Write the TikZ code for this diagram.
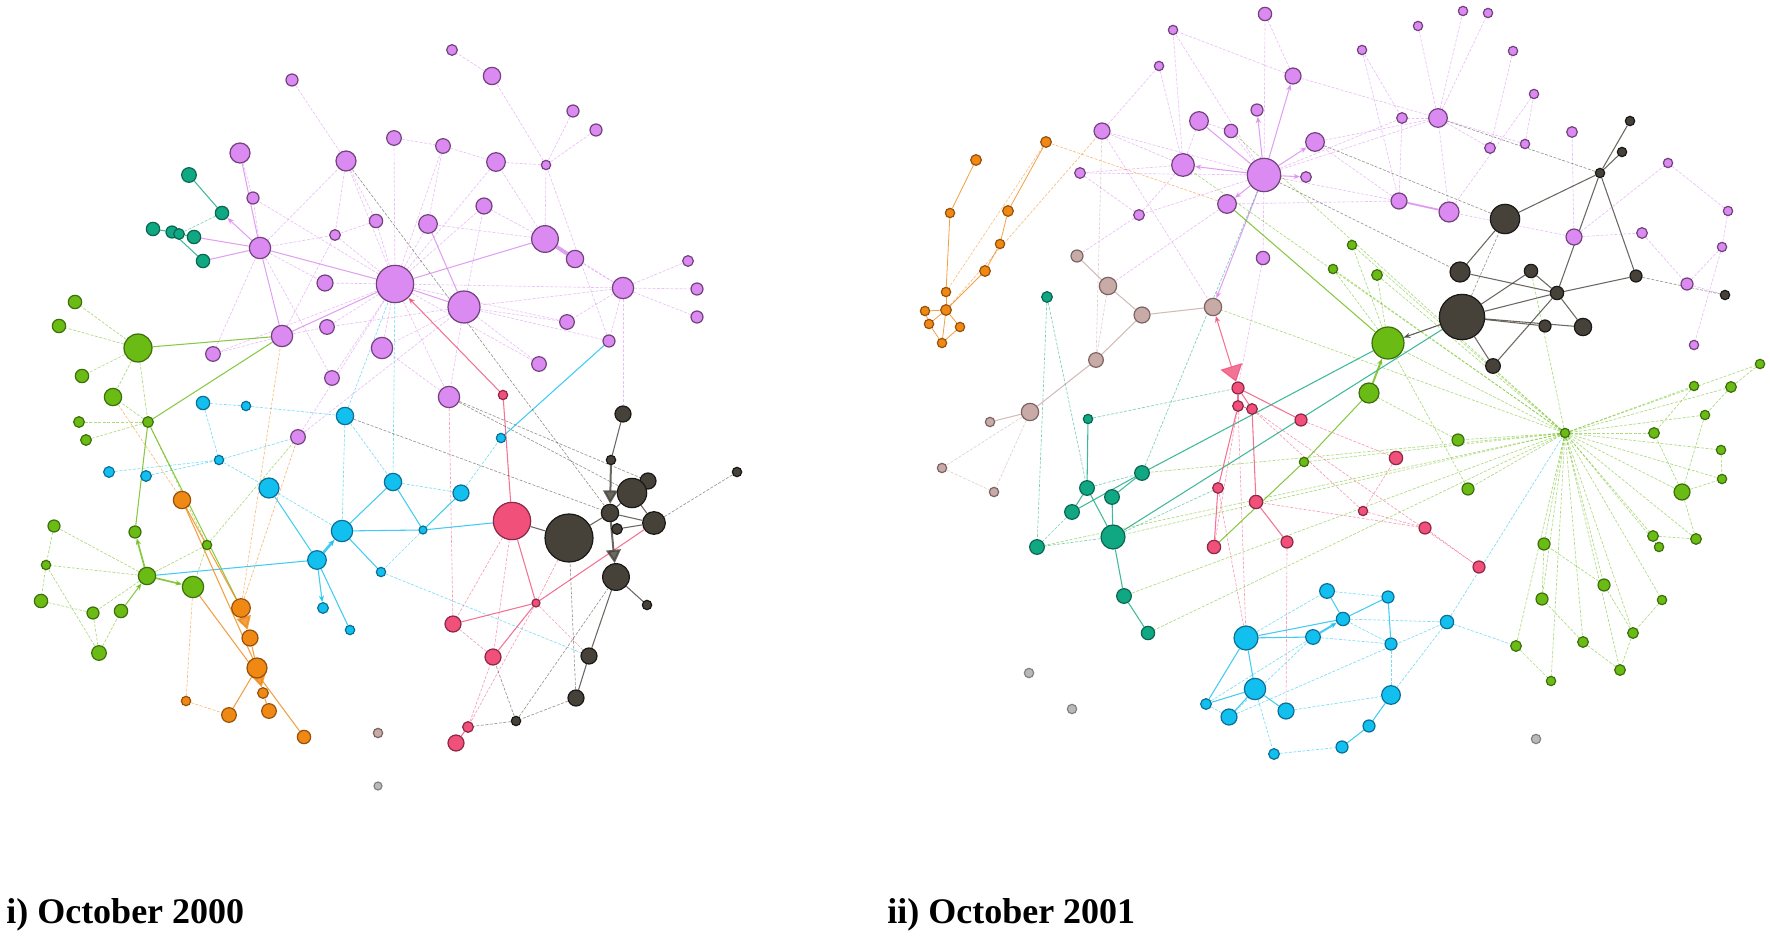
\documentclass[tikz,border=0pt]{standalone}
\usepackage{fontspec}
\setmainfont{Liberation Serif}
\usetikzlibrary{arrows.meta,backgrounds}

\definecolor{cpu}{RGB}{218,138,240}\definecolor{cpud}{RGB}{115,65,125}
\definecolor{cgr}{RGB}{106,188,20}\definecolor{cgrd}{RGB}{60,110,10}
\definecolor{cte}{RGB}{16,168,130}\definecolor{cted}{RGB}{10,100,80}
\definecolor{cbl}{RGB}{18,192,240}\definecolor{cbld}{RGB}{10,110,150}
\definecolor{cor}{RGB}{240,136,20}\definecolor{cord}{RGB}{150,80,10}
\definecolor{cre}{RGB}{240,80,122}\definecolor{cred}{RGB}{140,40,70}
\definecolor{cdk}{RGB}{70,66,58}\definecolor{cdkd}{RGB}{25,24,22}
\definecolor{cbr}{RGB}{200,170,166}\definecolor{cbrd}{RGB}{125,100,100}
\definecolor{cgy}{RGB}{185,185,185}\definecolor{cgyd}{RGB}{130,130,130}

\tikzset{
  nd/.style={circle,inner sep=0pt,line width=0.9pt},
  pu/.style={nd,fill=cpu,draw=cpud}, gr/.style={nd,fill=cgr,draw=cgrd},
  te/.style={nd,fill=cte,draw=cted}, bl/.style={nd,fill=cbl,draw=cbld},
  or/.style={nd,fill=cor,draw=cord}, re/.style={nd,fill=cre,draw=cred},
  dk/.style={nd,fill=cdk,draw=cdkd}, br/.style={nd,fill=cbr,draw=cbrd},
  gy/.style={nd,fill=cgy,draw=cgyd},
  ed/.style={line width=0.5pt,dash pattern=on 2.2pt off 1.2pt,opacity=0.55},
  es/.style={line width=0.8pt,opacity=0.8},
  epu/.style={ed,draw=cpu}, spu/.style={es,draw=cpu},
  egr/.style={ed,draw=cgr}, sgr/.style={es,draw=cgr},
  ete/.style={ed,draw=cte}, ste/.style={es,draw=cte},
  ebl/.style={ed,draw=cbl}, sbl/.style={es,draw=cbl},
  eor/.style={ed,draw=cor}, sor/.style={es,draw=cor},
  ere/.style={ed,draw=cre}, sre/.style={es,draw=cre},
  edk/.style={ed,draw=cdk}, sdk/.style={es,draw=cdk},
  ebr/.style={ed,draw=cbr}, sbr/.style={es,draw=cbr},
  sa/.style={-{Stealth[length=5pt,width=4pt]}},
  ta/.style={-{Triangle[length=10pt,width=11pt]}},
  lbl/.style={inner sep=0pt,anchor=base west,font=\fontsize{27}{30}\selectfont\bfseries}
}

\begin{document}
\begin{tikzpicture}[x=0.75pt,y=0.75pt,yscale=-1,xscale=1]
\useasboundingbox (0,0) rectangle (1770,937);

% i) October 2000
\foreach \n/\x/\y/\s in {ap1/292/80/9,ap2/240/153/15,ap3/346/161/15,ap4/394/138/11,ap5/253/198/9,ap6/335/235/8,ap7/376/221/10,ap8/325/283/12,ap9/395/284/28,ap10/327/327/11,ap11/282/336/16,ap12/382/348/16,ap13/213/354/11,ap14/332/378/11,ap15/452/50/8,ap16/492/76/13,ap17/573/111/9,ap18/596/130/9,ap19/443/146/11,ap20/496/162/14,ap21/546/165/7,ap22/484/206/12,ap23/428/224/14,ap24/545/239/20,ap25/575/259/13,ap26/623/288/16,ap27/688/261/8,ap28/697/289/9,ap29/697/317/9,ap30/464/307/24,ap31/567/322/11,ap32/609/341/9,ap33/539/364/11,ap34/449/397/16,ap35/298/437/11,ap36/260/248/16}
  \node[pu,minimum size=\s pt] (\n) at (\x,\y) {};
\foreach \n/\x/\y/\s in {at1/189/175/11,at2/222/213/10,at3/153/229/10,at4/172/232/9,at5/179/234/8,at6/194/237/10,at7/203/261/10}
  \node[te,minimum size=\s pt] (\n) at (\x,\y) {};
\foreach \n/\x/\y/\s in {ag1/75/302/10,ag2/59/326/10,ag3/138/348/21,ag4/82/376/10,ag5/113/397/13,ag6/79/422/8,ag7/148/422/8,ag8/86/440/8,ag9/54/526/9,ag10/135/532/9,ag11/207/545/7,ag12/46/565/7,ag13/147/576/13,ag14/193/587/16,ag15/41/601/10,ag16/93/613/9,ag17/121/611/10,ag18/99/653/11}
  \node[gr,minimum size=\s pt] (\n) at (\x,\y) {};
\foreach \n/\x/\y/\s in {ab1/203/403/10,ab2/246/406/7,ab3/345/416/13,ab4/109/472/8,ab5/146/476/8,ab6/219/460/7,ab7/269/488/15,ab8/393/482/13,ab9/342/531/16,ab10/317/560/14,ab11/381/572/7,ab12/323/608/8,ab13/350/630/7,ab14/461/493/12,ab15/423/530/6,ab16/501/438/7}
  \node[bl,minimum size=\s pt] (\n) at (\x,\y) {};
\foreach \n/\x/\y/\s in {ao1/182/500/13,ao2/241/608/14,ao3/250/638/12,ao4/257/668/15,ao5/263/693/8,ao6/186/701/7,ao7/229/715/11,ao8/269/711/11,ao9/304/737/10}
  \node[or,minimum size=\s pt] (\n) at (\x,\y) {};
\foreach \n/\x/\y/\s in {ar1/503/395/7,ar2/512/521/28,ar3/536/603/6,ar4/453/624/12,ar5/493/657/12,ar6/468/727/8,ar7/456/743/12}
  \node[re,minimum size=\s pt] (\n) at (\x,\y) {};
\foreach \n/\x/\y/\s in {ad1/623/414/12,ad2/611/460/7,ad3/648/481/12,ad4/632/493/22,ad5/610/513/13,ad6/654/523/17,ad7/617/529/8,ad8/569/538/36,ad9/616/577/20,ad10/647/605/7,ad11/589/656/12,ad12/576/698/12,ad13/516/721/7,ad14/737/472/7}
  \node[dk,minimum size=\s pt] (\n) at (\x,\y) {};
\node[br,minimum size=7pt] (ax1) at (378,733) {};
\node[gy,minimum size=6pt] (ax2) at (378,786) {};

% ii) October 2001
\foreach \n/\x/\y/\s in {bp1/1265/14/10,bp2/1173/30/7,bp3/1159/66/7,bp4/1293/76/12,bp5/1257/110/9,bp6/1199/121/14,bp7/1231/131/10,bp8/1102/131/12,bp9/1315/142/14,bp10/1183/165/17,bp11/1264/175/25,bp12/1306/177/8,bp13/1080/173/8,bp14/1227/204/14,bp15/1139/215/8,bp16/1263/258/10,bp17/1463/11/7,bp18/1488/13/7,bp19/1418/26/7,bp20/1362/50/7,bp21/1513/51/7,bp22/1534/94/7,bp23/1402/118/8,bp24/1438/118/14,bp25/1572/132/8,bp26/1525/144/7,bp27/1490/148/8,bp28/1668/163/7,bp29/1399/201/12,bp30/1449/212/15,bp31/1728/211/7,bp32/1574/237/12,bp33/1642/233/8,bp34/1722/247/7,bp35/1687/284/9,bp36/1694/345/7}
  \node[pu,minimum size=\s pt] (\n) at (\x,\y) {};
\foreach \n/\x/\y/\s in {bo1/1046/142/8,bo2/976/160/8,bo3/950/213/7,bo4/1008/211/8,bo5/1000/244/7,bo6/985/271/8,bo7/946/292/7,bo8/925/311/7,bo9/946/310/8,bo10/929/324/7,bo11/960/327/7,bo12/942/343/7}
  \node[or,minimum size=\s pt] (\n) at (\x,\y) {};
\foreach \n/\x/\y/\s in {bb1/1077/256/9,bb2/1108/286/13,bb3/1213/307/13,bb4/1142/315/12,bb5/1096/360/11,bb6/1030/412/13,bb7/990/422/7,bb8/942/468/7,bb9/994/492/7}
  \node[br,minimum size=\s pt] (\n) at (\x,\y) {};
\foreach \n/\x/\y/\s in {bt1/1047/297/8,bt2/1088/419/7,bt3/1142/473/11,bt4/1087/488/11,bt5/1112/497/11,bt6/1072/512/11,bt7/1113/537/18,bt8/1037/547/11,bt9/1124/596/11,bt10/1148/633/10}
  \node[te,minimum size=\s pt] (\n) at (\x,\y) {};
\foreach \n/\x/\y/\s in {br1/1238/388/9,br2/1238/406/8,br3/1252/409/8,br4/1301/420/9,br5/1218/488/8,br6/1256/502/10,br7/1214/547/10,br8/1287/542/9,br9/1396/458/10,br10/1363/511/7,br11/1425/528/9,br12/1479/567/9}
  \node[re,minimum size=\s pt] (\n) at (\x,\y) {};
\foreach \n/\x/\y/\s in {bd1/1630/121/7,bd2/1622/152/7,bd3/1600/173/7,bd4/1505/219/22,bd5/1460/272/15,bd6/1531/271/10,bd7/1636/276/9,bd8/1557/293/10,bd9/1725/295/7,bd10/1462/317/34,bd11/1545/326/9,bd12/1583/327/13,bd13/1493/366/11}
  \node[dk,minimum size=\s pt] (\n) at (\x,\y) {};
\foreach \n/\x/\y/\s in {bg1/1333/269/7,bg2/1352/245/7,bg3/1377/275/8,bg4/1388/343/24,bg5/1369/393/15,bg6/1694/386/7,bg7/1731/387/8,bg8/1760/364/7,bg9/1705/415/7,bg10/1458/440/9,bg11/1565/433/7,bg12/1654/433/8,bg13/1721/450/7,bg14/1722/479/7,bg15/1468/489/9,bg16/1682/492/12,bg17/1653/536/8,bg18/1659/547/7,bg19/1696/539/8,bg20/1544/544/9,bg21/1604/585/9,bg22/1542/599/9,bg23/1662/600/7,bg24/1633/633/8,bg25/1583/642/8,bg26/1620/670/8,bg27/1551/681/7,bg28/1516/646/8,bg29/1304/462/7}
  \node[gr,minimum size=\s pt] (\n) at (\x,\y) {};
\foreach \n/\x/\y/\s in {bu1/1246/638/18,bu2/1327/591/11,bu3/1313/637/11,bu4/1255/689/16,bu5/1206/704/8,bu6/1229/717/12,bu7/1286/711/12,bu8/1274/754/8,bu9/1343/619/10,bu10/1388/597/9,bu11/1447/622/10,bu12/1391/644/9,bu13/1391/695/14,bu14/1369/726/9,bu15/1342/747/9}
  \node[bl,minimum size=\s pt] (\n) at (\x,\y) {};
\foreach \n/\x/\y in {bx1/1029/673,bx2/1072/709,bx3/1536/739}
  \node[gy,minimum size=7pt] (\n) at (\x,\y) {};

\begin{pgfonlayer}{background}
% edges, left
\foreach \a/\b in {ap9/ap6,ap9/ap7,ap9/ap23,ap9/ap8,ap9/ap10,ap9/ap12,ap9/ap34,ap9/ap3,ap9/ap19,ap9/ap20,ap9/ap22,ap9/ap26,ap9/ap31,ap9/ap33,ap9/ap13,ap9/ap4,ap9/ap14,ap9/ap5,ap36/ap5,ap36/ap6,ap36/ap3,ap36/ap8,ap36/ap14,ap11/ap6,ap11/ap13,ap11/ap10,ap24/ap26,ap24/ap20,ap24/ap21,ap24/ap22,ap24/ap23,ap26/ap27,ap26/ap28,ap26/ap29,ap26/ap25,ap26/ap30,ap26/ap31,ap26/ap32,ap21/ap16,ap21/ap17,ap21/ap18,ap21/ap20,ap21/ap32,ap16/ap15,ap1/ap3,ap4/ap19,ap19/ap20,ap3/ap6,ap23/ap19,ap30/ap22,ap30/ap32,ap30/ap33,ap30/ap31,ap30/ap10,ap30/ap12,ap30/ap34,ap7/ap6,ap34/ap12,ap35/ap30,ap35/ap9,ap3/ap7,ap2/ap5,ap36/ap13,ap26/ad1}
  \draw[epu] (\a) -- (\b);
\foreach \a/\b in {ap9/ap36,ap9/ap11,ap9/ap30,ap36/ap2,ap36/ap11,ap9/ap24,ap30/ap23,ap36/at6,ap36/at7}
  \draw[spu] (\a) -- (\b);
\draw[spu,line width=3pt] (ap24) -- (ap25);
\draw[spu,sa] (ap36) -- (at2);
\foreach \a/\b in {at1/at2,at3/at4,at4/at5,at5/at6,at4/at7}
  \draw[ste] (\a) -- (\b);
\draw[ete] (at2) -- (at5);
\foreach \a/\b in {ag3/ag1,ag3/ag2,ag3/ag4,ag3/ag5,ag3/ag7,ag7/ag6,ag7/ag8,ag7/ag5,ag7/ag11,ag13/ag9,ag13/ag12,ag13/ag16,ag13/ag11,ag12/ag15,ag15/ag16,ag18/ag16,ag18/ag17,ag12/ag18,ag11/ag14,ag11/ap35,ag9/ag12}
  \draw[egr] (\a) -- (\b);
\foreach \a/\b in {ag3/ap11,ag7/ap11,ag7/ag10,ag7/ao2}
  \draw[sgr] (\a) -- (\b);
\draw[sgr,sa,line width=1.3pt] (ag13) -- (ag10);
\draw[sgr,sa,line width=1.3pt] (ag13) -- (ag14);
\draw[sgr,sa] (ag17) -- (ag13);
\foreach \a/\b in {ab1/ab2,ab2/ab3,ab1/ab6,ab4/ab6,ab5/ab6,ab6/ap35,ab6/ab7,ab7/ab9,ab3/ab9,ab3/ap9,ab8/ap9,ab14/ab16,ab11/ad11,ab3/ab8,ab15/ab11,ab8/ab14}
  \draw[ebl] (\a) -- (\b);
\foreach \a/\b in {ab7/ab10,ab9/ab8,ab9/ab15,ab9/ab11,ab15/ab14,ab16/ap32,ab15/ar2,ab10/ab13,ab10/ag13,ab8/ab15}
  \draw[sbl] (\a) -- (\b);
\draw[sbl,sa,line width=2pt] (ab10) -- (ab9);
\draw[sbl,sa] (ab10) -- (ab12);
\foreach \a/\b in {ao6/ao7,ag14/ao6,ao2/ap11,ag5/ao1,ao2/ap35}
  \draw[eor] (\a) -- (\b);
\foreach \a/\b in {ao1/ao2,ao1/ao4,ao3/ao4,ao4/ao7,ao5/ao8,ag14/ao9}
  \draw[sor] (\a) -- (\b);
\draw[sor,ta,line width=1.5pt] (ao2) -- (ao3);
\draw[sor,ta,line width=1.5pt] (ao4) -- (ao5);
\foreach \a/\b in {ar1/ar2,ar2/ar3,ar3/ar4,ar3/ad6,ar3/ar5,ar6/ar7}
  \draw[sre] (\a) -- (\b);
\foreach \a/\b in {ar3/ad11,ar3/ad8,ar3/ar6,ar4/ar5,ar2/ar4,ar2/ar5,ar4/ap34,ar6/ar5}
  \draw[ere] (\a) -- (\b);
\draw[sre,sa] (ar1) -- (ap9);
\foreach \a/\b in {ad1/ad2,ad4/ad3,ad4/ad5,ad5/ad6,ad7/ad6,ad4/ad6,ad9/ad10,ad9/ad11,ad11/ad12,ad8/ad5,ad8/ar2}
  \draw[sdk] (\a) -- (\b);
\foreach \a/\b in {ad12/ad13,ad13/ar6,ad6/ad14,ad13/ad9,ad12/ad8,ap3/ad5,ap34/ad4,ab3/ad5,ap34/ad3,ad13/ar5}
  \draw[edk] (\a) -- (\b);
\draw[sdk,ta,line width=1.5pt] (ad2) -- (ad5);
\draw[sdk,ta,line width=1.5pt] (ad5) -- (ad9);
% edges, right
\foreach \a/\b in {bp11/bp1,bp11/bp7,bp11/bp16,bp11/bp15,bp11/bp8,bp11/bp23,bp11/bp29,bp11/bp24,bp11/bp13,bp11/bp2,bp10/bp8,bp10/bp6,bp10/bp15,bp10/bp2,bp10/bp13,bp10/bp3,bp4/bp1,bp4/bp2,bp4/bp24,bp24/bp23,bp24/bp19,bp24/bp17,bp24/bp18,bp24/bp27,bp24/bp26,bp30/bp29,bp30/bp22,bp29/bp9,bp29/bp14,bp29/bp23,bp32/bp25,bp32/bp33,bp26/bp22,bp27/bp21,bp28/bp31,bp31/bp34,bp34/bp35,bp34/bp36,bp20/bp23,bp8/bp3,bp6/bp7,bp9/bp24,bp13/bp15,bp15/bb1,bp30/bp24,bp32/bp30,bp16/br1,bp14/bb2,bp8/bb3,bp35/bd9,bp33/bp35,bp20/bp29,bp32/bp28}
  \draw[epu] (\a) -- (\b);
\draw[spu] (bp11) -- (bp6);
\foreach \b in {bp10,bp14,bp4,bp9,bp12,bp5,bb3}
  \draw[spu,sa] (bp11) -- (\b);
\draw[spu,line width=1.4pt] (bp29) -- (bp30);
\foreach \a/\b in {bo2/bo3,bo3/bo7,bo7/bo9,bo9/bo8,bo9/bo10,bo9/bo11,bo9/bo12,bo8/bo10,bo10/bo12,bo11/bo12,bo9/bo6,bo6/bo5,bo5/bo4,bo4/bo1}
  \draw[sor,line width=0.6pt] (\a) -- (\b);
\foreach \a/\b in {bo1/bo7,bo9/bp8,bo1/bp14}
  \draw[eor] (\a) -- (\b);
\foreach \a/\b in {bb1/bb2,bb2/bb4,bb4/bb3,bb4/bb5,bb5/bb6,bb6/bb7}
  \draw[sbr] (\a) -- (\b);
\foreach \a/\b in {bb2/bb5,bb6/bb8,bb6/bb9,bb5/bp8,bb8/bb9}
  \draw[ebr] (\a) -- (\b);
\foreach \a/\b in {bt1/bt8,bt1/bt4,bt2/br1,bt6/bt8,bt7/bt8,bt3/bp11,bt7/br5,bt4/bt3}
  \draw[ete] (\a) -- (\b);
\foreach \a/\b in {bt2/bt4,bt4/bt7,bt5/bt3,bt6/bt3,bt6/bt4,bt7/bt9,bt9/bt10,bt7/bt5,bt3/bg4,bt7/bd10}
  \draw[ste] (\a) -- (\b);
\foreach \a/\b in {br1/br2,br1/br3,br2/br3,br2/br5,br5/br7,br3/br6,br6/br8,br1/br4}
  \draw[sre] (\a) -- (\b);
\foreach \a/\b in {br4/br9,br9/br10,br10/br11,br11/br12,br3/br10,br2/br7,br5/bu1,br2/bu1,br8/bu7,br3/br12,br6/br11}
  \draw[ere] (\a) -- (\b);
\draw[sre,{Triangle[length=12pt,width=17pt]}-{Stealth[length=5pt,width=4pt]}] (br1) -- (bb3);
\foreach \a/\b in {bd3/bd1,bd3/bd2,bd3/bd4,bd3/bd7,bd3/bd8,bd4/bd5,bd10/bd6,bd10/bd8,bd10/bd11,bd10/bd12,bd10/bd13,bd8/bd12,bd8/bd6,bd8/bd13,bd7/bd8,bd5/bd8}
  \draw[sdk] (\a) -- (\b);
\foreach \a/\b in {bd3/bp24,bd10/bd4,bd7/bd9,bp11/bd5,bd10/bg4,bp9/bd4}
  \draw[edk] (\a) -- (\b);
\draw[sdk,sa] (bd10) -- (bg4);
\foreach \b in {bg1,bg2,bg3,bg6,bg7,bg8,bg9,bg10,bg12,bg13,bg14,bg15,bg16,bg17,bg18,bg19,bg20,bg21,bg22,bg23,bg24,bg25,bg26,bg27,bg28,bg29,bt3,bb3,bt9,bt10,bp10,bp7,bg4,bt8,bt7,bd6}
  \draw[egr] (bg11) -- (\b);
\foreach \a/\b in {bg16/bg12,bg16/bg9,bg16/bg14,bg16/bg19,bg17/bg19,bg13/bg14,bg7/bg9,bg8/bg7,bg6/bg12,bg21/bg24,bg24/bg26,bg26/bg25,bg25/bg22,bg23/bg24,bg22/bg20,bg21/bg20,bg4/bg3,bg4/bg1,bg4/bg2,bg15/bg4,bg10/bg5,bg28/bg27}
  \draw[egr] (\a) -- (\b);
\foreach \a/\b in {bg5/bg29,bg29/br7,bg4/bp14}
  \draw[sgr] (\a) -- (\b);
\draw[sgr,sa,line width=1.5pt] (bg5) -- (bg4);
\foreach \a/\b in {bu1/bu3,bu1/bu4,bu1/bu5,bu1/bu9,bu9/bu2,bu10/bu12,bu13/bu14,bu14/bu15,bu4/bu6,bu4/bu7,bu4/bu5,bu9/bu10}
  \draw[sbl] (\a) -- (\b);
\foreach \a/\b in {bu1/bu2,bu9/bu11,bu12/bu13,bu11/bu13,bu11/bg28,bu4/bu8,bu8/bu15,bu6/bu3,bu7/bu13,bu5/bu6,bu11/bg11,bu12/bu9,bu3/bu12,bu6/bu11,bu5/bu3,bu2/bu10}
  \draw[ebl] (\a) -- (\b);
\draw[sbl,sa,line width=1.5pt] (bu3) -- (bu9);
\end{pgfonlayer}

\node[lbl] (cap1) at (6,923) {i) October 2000};
\node[lbl] (cap2) at (887,923) {ii) October 2001};
\end{tikzpicture}
\end{document}
